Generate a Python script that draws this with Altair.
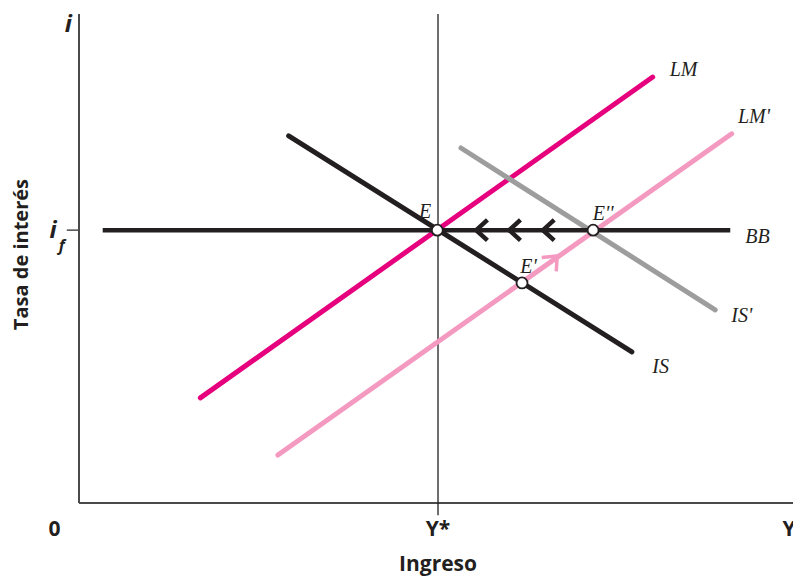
import altair as alt
import pandas as pd

# ---- data (economic diagram, x in [0,100], y in [0,100]) ----
curve_names = ["LM", "LM'", "IS", "IS'", "BB"]
curve_x0 = [16.9, 27.7, 29.2, 53.2, 3.3]
curve_y0 = [21.5, 9.8, 75.1, 72.6, 55.8]
curve_x1 = [79.9, 90.9, 77.0, 88.6, 90.7]
curve_y1 = [87.1, 75.5, 30.9, 39.5, 55.8]
curve_colors = ["#E6007E", "#F49AC1", "#231F20", "#9D9D9D", "#231F20"]

curve_label_x = [84.2, 94.0, 81.0, 92.3, 94.5]
curve_label_y = [88.5, 78.9, 27.8, 38.2, 54.4]

eq_names = ["E", "E'", "E''"]
eq_x = [49.9, 61.7, 71.6]
eq_y = [55.8, 45.0, 55.8]
eq_label_x = [48.2, 62.6, 73.0]
eq_label_y = [59.6, 48.3, 59.0]

chevron_x = [56.1, 60.7, 65.4]
chevron_y = [55.8, 55.8, 55.8]
pink_arrow_x = [65.7]
pink_arrow_y = [49.3]

y_star = 50.0
i_f = 55.8
x_max = 99.44

axis_tick_labels = ["0", "Y*", "Y"]
axis_tick_x = [-3.4, 50.0, 98.9]
axis_tick_y = [-5.6, -5.6, -5.6]

# ---- tables ----
rows = []
for n, x0, y0, x1, y1 in zip(curve_names, curve_x0, curve_y0, curve_x1, curve_y1):
    rows.append({"curve": n, "x": x0, "y": y0, "o": 0})
    rows.append({"curve": n, "x": x1, "y": y1, "o": 1})
lines_df = pd.DataFrame(rows)

curve_lab_df = pd.DataFrame({"label": curve_names, "x": curve_label_x, "y": curve_label_y})
eq_df = pd.DataFrame({"label": eq_names, "x": eq_x, "y": eq_y,
                      "lx": eq_label_x, "ly": eq_label_y})
chev_df = pd.DataFrame({"x": chevron_x, "y": chevron_y})
pink_df = pd.DataFrame({"x": pink_arrow_x, "y": pink_arrow_y})
ticklab_df = pd.DataFrame({"label": axis_tick_labels, "x": axis_tick_x, "y": axis_tick_y})

xs = alt.Scale(domain=[0, x_max], nice=False, zero=False)
ys = alt.Scale(domain=[0, 100], nice=False, zero=False)
X = lambda f="x": alt.X(f"{f}:Q", scale=xs, axis=None)
Y = lambda f="y": alt.Y(f"{f}:Q", scale=ys, axis=None)

# axes lines
axes_df = pd.DataFrame({"x": [0, 0], "y": [0, 0], "x2": [0, x_max], "y2": [100, 0]})
axes = alt.Chart(axes_df).mark_rule(color="#4a4a4a", strokeWidth=2).encode(
    x=X(), y=Y(), x2="x2:Q", y2="y2:Q")

# Y* vertical line
ystar_df = pd.DataFrame({"x": [y_star], "y": [-2.5], "y2": [100]})
ystar = alt.Chart(ystar_df).mark_rule(color="#231F20", strokeWidth=1.3).encode(
    x=X(), y=Y(), y2="y2:Q")

# i_f tick
if_df = pd.DataFrame({"x": [-1.7], "x2": [0], "y": [i_f]})
iftick = alt.Chart(if_df).mark_rule(color="#4a4a4a", strokeWidth=1.5).encode(
    x=X(), x2="x2:Q", y=Y())

color_scale = alt.Scale(domain=curve_names, range=curve_colors)
curves_round = alt.Chart(lines_df[lines_df.curve != "BB"]).mark_line(
    strokeWidth=5, strokeCap="round").encode(
    x=X(), y=Y(), order="o:Q",
    color=alt.Color("curve:N", scale=color_scale, legend=None))
curve_bb = alt.Chart(lines_df[lines_df.curve == "BB"]).mark_line(
    strokeWidth=4.5, strokeCap="butt").encode(
    x=X(), y=Y(), order="o:Q",
    color=alt.Color("curve:N", scale=color_scale, legend=None))

chevrons = alt.Chart(chev_df).mark_point(
    shape="M0.55,-1L-0.55,0L0.55,1", filled=False, stroke="#231F20",
    strokeWidth=4.5, size=420, opacity=1).encode(x=X(), y=Y())

pink_arrow = alt.Chart(pink_df).mark_point(
    shape="M-0.9,-0.45L0.65,-0.6L0.55,0.95", filled=False, stroke="#F49AC1",
    strokeWidth=3.5, size=400, opacity=1).encode(x=X(), y=Y())

eq_points = alt.Chart(eq_df).mark_point(
    shape="circle", filled=True, fill="white", stroke="#231F20",
    strokeWidth=1.8, size=120, opacity=1).encode(x=X(), y=Y())

serif = "Liberation Serif"
curve_labels = alt.Chart(curve_lab_df).mark_text(
    font=serif, fontStyle="italic", fontSize=20, color="#231F20",
    align="center", baseline="middle").encode(x=X(), y=Y(), text="label:N")
eq_labels = alt.Chart(eq_df).mark_text(
    font=serif, fontStyle="italic", fontSize=20, color="#231F20",
    align="center", baseline="middle").encode(x=X("lx"), y=Y("ly"), text="label:N")

sans = "Open Sans"
tick_labels = alt.Chart(ticklab_df).mark_text(
    font=sans, fontWeight="bold", fontSize=21, color="#231F20",
    align="center", baseline="middle").encode(x=X(), y=Y(), text="label:N")

xtitle_df = pd.DataFrame({"label": ["Ingreso"], "x": [50.0], "y": [-12.6]})
xtitle = alt.Chart(xtitle_df).mark_text(
    font=sans, fontWeight="bold", fontSize=21, color="#231F20",
    align="center", baseline="middle").encode(x=X(), y=Y(), text="label:N")

ytitle_df = pd.DataFrame({"label": ["Tasa de interés"], "x": [-8.0], "y": [50.8]})
ytitle = alt.Chart(ytitle_df).mark_text(
    font=sans, fontWeight="bold", fontSize=20, color="#231F20", angle=270,
    align="center", baseline="middle").encode(x=X(), y=Y(), text="label:N")

i_df = pd.DataFrame({"label": ["i", "i", "f"],
                     "x": [-1.5, -3.6, -2.4],
                     "y": [97.8, 55.6, 52.6],
                     "s": [24, 24, 16]})
i_labels = alt.Chart(i_df).mark_text(
    font=sans, fontWeight="bold", fontStyle="italic", color="#231F20",
    align="center", baseline="middle").encode(
    x=X(), y=Y(), text="label:N", size=alt.Size("s:Q", scale=None, legend=None))

chart = alt.layer(
    axes, ystar, iftick, curves_round, curve_bb, chevrons, pink_arrow,
    eq_points, curve_labels, eq_labels, tick_labels, xtitle, ytitle, i_labels
).properties(
    width=714, height=489,
    autosize=alt.AutoSizeParams(type="none"),
    padding={"left": 71, "top": 6, "right": 0, "bottom": 73},
).configure_view(stroke=None)

chart.save("out.html", embed_options={"renderer": "svg", "actions": False})
